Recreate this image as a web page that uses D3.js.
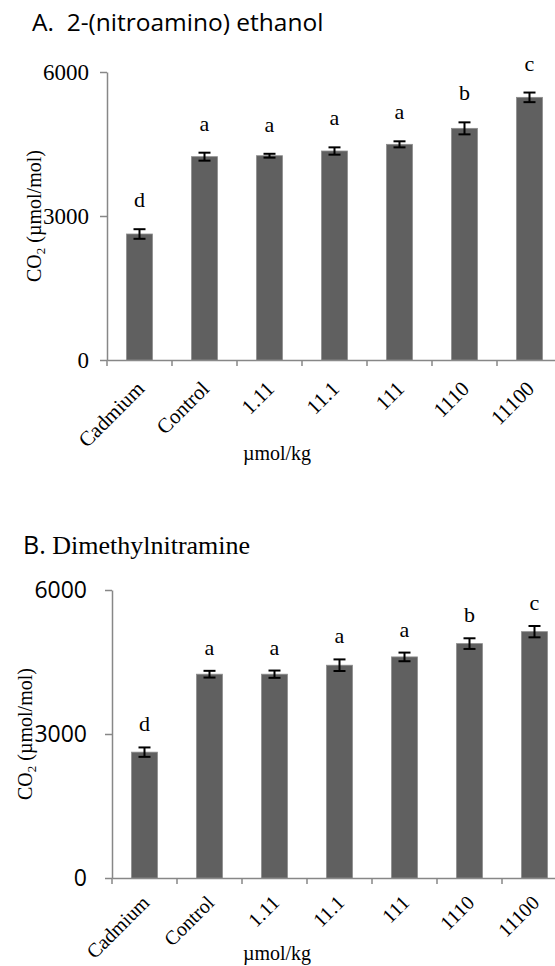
<!DOCTYPE html>
<html>
<head>
<meta charset="utf-8">
<script src="https://cdn.jsdelivr.net/npm/d3@7"></script>
<style>
  body { margin: 0; background: #fff; }
  svg { display: block; }
  text { white-space: pre; }
</style>
</head>
<body>
<svg class="chart" width="555" height="966"></svg>
<script>
var categories = ["Cadmium", "Control", "1.11", "11.1", "111", "1110", "11100"];
var yTicks = [0, 3000, 6000];

var nitroaminoMean = [2625, 4236, 4256, 4354, 4493, 4826, 5472];
var nitroaminoErr = [100, 83, 40, 76, 63, 125, 100];
var nitroaminoLetters = ["d", "a", "a", "a", "a", "b", "c"];

var dmnMean = [2622, 4246, 4246, 4433, 4606, 4883, 5132];
var dmnErr = [98, 70, 76, 121, 90, 111, 118];
var dmnLetters = ["d", "a", "a", "a", "a", "b", "c"];

var SERIF = "'Liberation Serif', 'Times New Roman', serif";
var SANS = "'Open Sans', Lato, sans-serif";

var svg = d3.select("svg.chart");

function drawTitle(g, x, y, parts) {
    var t = g.append("text")
      .attr("x", x)
      .attr("y", y)
      .attr("fill", "#000");
    parts.forEach(function (p) {
        t.append("tspan")
          .attr("font-family", p.font)
          .attr("font-size", p.size)
          .text(p.text);
    });
}

function drawPanel(opt) {
    var g = svg.append("g");

    var x = d3.scaleBand()
              .domain(categories)
              .range([opt.left, opt.left + 65 * categories.length])
              .paddingInner(0.6)
              .paddingOuter(0.3);

    var y = d3.scaleLinear()
              .domain([0, 6000])
              .range([opt.bottom, opt.top]);

    // y axis
    var ya = g.append("g")
      .attr("transform", "translate(" + opt.left + ",0)")
      .call(d3.axisLeft(y)
              .tickValues(yTicks)
              .tickFormat(d3.format("d"))
              .tickSize(7)
              .tickSizeOuter(0)
              .tickPadding(opt.tickPad));
    ya.select(".domain").attr("stroke", "#878787").attr("stroke-width", 1.5);
    ya.selectAll(".tick line").attr("stroke", "#878787").attr("stroke-width", 1.5);
    ya.selectAll(".tick text")
      .attr("font-family", opt.tickFont)
      .attr("font-size", opt.tickSize)
      .attr("fill", "#000");

    // x axis
    var xa = g.append("g")
      .attr("transform", "translate(0," + opt.bottom + ")")
      .call(d3.axisBottom(x).tickSize(0).tickSizeOuter(0).tickFormat(""));
    xa.select(".domain").attr("stroke", "#878787").attr("stroke-width", 1.5);

    // small ticks between categories
    var step = x.step();
    g.selectAll("line.xtick")
      .data(d3.range(categories.length + 1))
      .enter()
      .append("line")
      .attr("class", "xtick")
      .attr("x1", function (i) { return opt.left + step * i; })
      .attr("x2", function (i) { return opt.left + step * i; })
      .attr("y1", opt.bottom)
      .attr("y2", opt.bottom + 6)
      .attr("stroke", "#878787")
      .attr("stroke-width", 1.5);

    // category labels, rotated
    g.selectAll("text.cat")
      .data(categories)
      .enter()
      .append("text")
      .attr("class", "cat")
      .attr("transform", function (d) {
          var cx = x(d) + x.bandwidth() / 2;
          return "translate(" + (cx + 6) + "," + (opt.bottom + opt.labelGap) + ") rotate(-45)";
      })
      .attr("text-anchor", "end")
      .attr("font-family", SERIF)
      .attr("font-size", opt.labelSize)
      .text(function (d) { return d; });

    // bars
    g.selectAll("rect.bar")
      .data(opt.mean)
      .enter()
      .append("rect")
      .attr("class", "bar")
      .attr("x", function (d, i) { return x(categories[i]); })
      .attr("y", function (d) { return y(d); })
      .attr("width", x.bandwidth())
      .attr("height", function (d) { return opt.bottom - y(d); })
      .attr("fill", "#606060")
      .attr("stroke", "#8e8e8e")
      .attr("stroke-width", 0.8);

    // error bars
    var eb = g.selectAll("g.err")
      .data(opt.mean)
      .enter()
      .append("g")
      .attr("class", "err")
      .attr("stroke", "#000")
      .attr("stroke-width", 2);
    eb.append("line")
      .attr("x1", function (d, i) { return x(categories[i]) + x.bandwidth() / 2; })
      .attr("x2", function (d, i) { return x(categories[i]) + x.bandwidth() / 2; })
      .attr("y1", function (d, i) { return y(d + opt.err[i]); })
      .attr("y2", function (d, i) { return y(d - opt.err[i]); });
    [1, -1].forEach(function (s) {
        eb.append("line")
          .attr("x1", function (d, i) { return x(categories[i]) + x.bandwidth() / 2 - 6; })
          .attr("x2", function (d, i) { return x(categories[i]) + x.bandwidth() / 2 + 6; })
          .attr("y1", function (d, i) { return y(d + s * opt.err[i]); })
          .attr("y2", function (d, i) { return y(d + s * opt.err[i]); });
    });

    // significance letters
    g.selectAll("text.sig")
      .data(opt.letters)
      .enter()
      .append("text")
      .attr("class", "sig")
      .attr("x", function (d, i) { return x(categories[i]) + x.bandwidth() / 2; })
      .attr("y", function (d, i) { return y(opt.mean[i] + opt.err[i]) - opt.letterGap; })
      .attr("text-anchor", "middle")
      .attr("font-family", SERIF)
      .attr("font-size", 22)
      .text(function (d) { return d; });

    // y title
    var yt = g.append("text")
      .attr("transform", "translate(" + opt.yTitleX + "," + ((opt.top + opt.bottom) / 2) + ") rotate(-90)")
      .attr("text-anchor", "middle")
      .attr("font-family", SERIF)
      .attr("font-size", 20);
    yt.append("tspan").text("CO");
    yt.append("tspan").attr("font-size", 13).attr("dy", 4).text("2");
    yt.append("tspan").attr("dy", -4).text(" (µmol/mol)");

    // x title
    g.append("text")
      .attr("x", 277)
      .attr("y", opt.bottom + opt.xTitleGap)
      .attr("text-anchor", "middle")
      .attr("font-family", SERIF)
      .attr("font-size", 20)
      .text("µmol/kg");

    drawTitle(g, opt.titleX, opt.titleY, opt.title);
}

drawPanel({
    left: 107, top: 72, bottom: 360,
    mean: nitroaminoMean, err: nitroaminoErr, letters: nitroaminoLetters,
    letterGap: 22,
    labelGap: 30, labelSize: 21,
    tickFont: SERIF, tickSize: 23, tickPad: 11,
    yTitleX: 41, xTitleGap: 100,
    titleX: 32, titleY: 31,
    title: [{ text: "A.  2-(nitroamino) ethanol", font: SANS, size: 24.5 }]
});

drawPanel({
    left: 112, top: 590, bottom: 878,
    mean: dmnMean, err: dmnErr, letters: dmnLetters,
    letterGap: 16,
    labelGap: 26, labelSize: 20,
    tickFont: SANS, tickSize: 23, tickPad: 18,
    yTitleX: 32, xTitleGap: 82,
    titleX: 23, titleY: 554,
    title: [{ text: "B.", font: SANS, size: 25 }, { text: " Dimethylnitramine", font: SERIF, size: 26 }]
});
</script>
</body>
</html>
